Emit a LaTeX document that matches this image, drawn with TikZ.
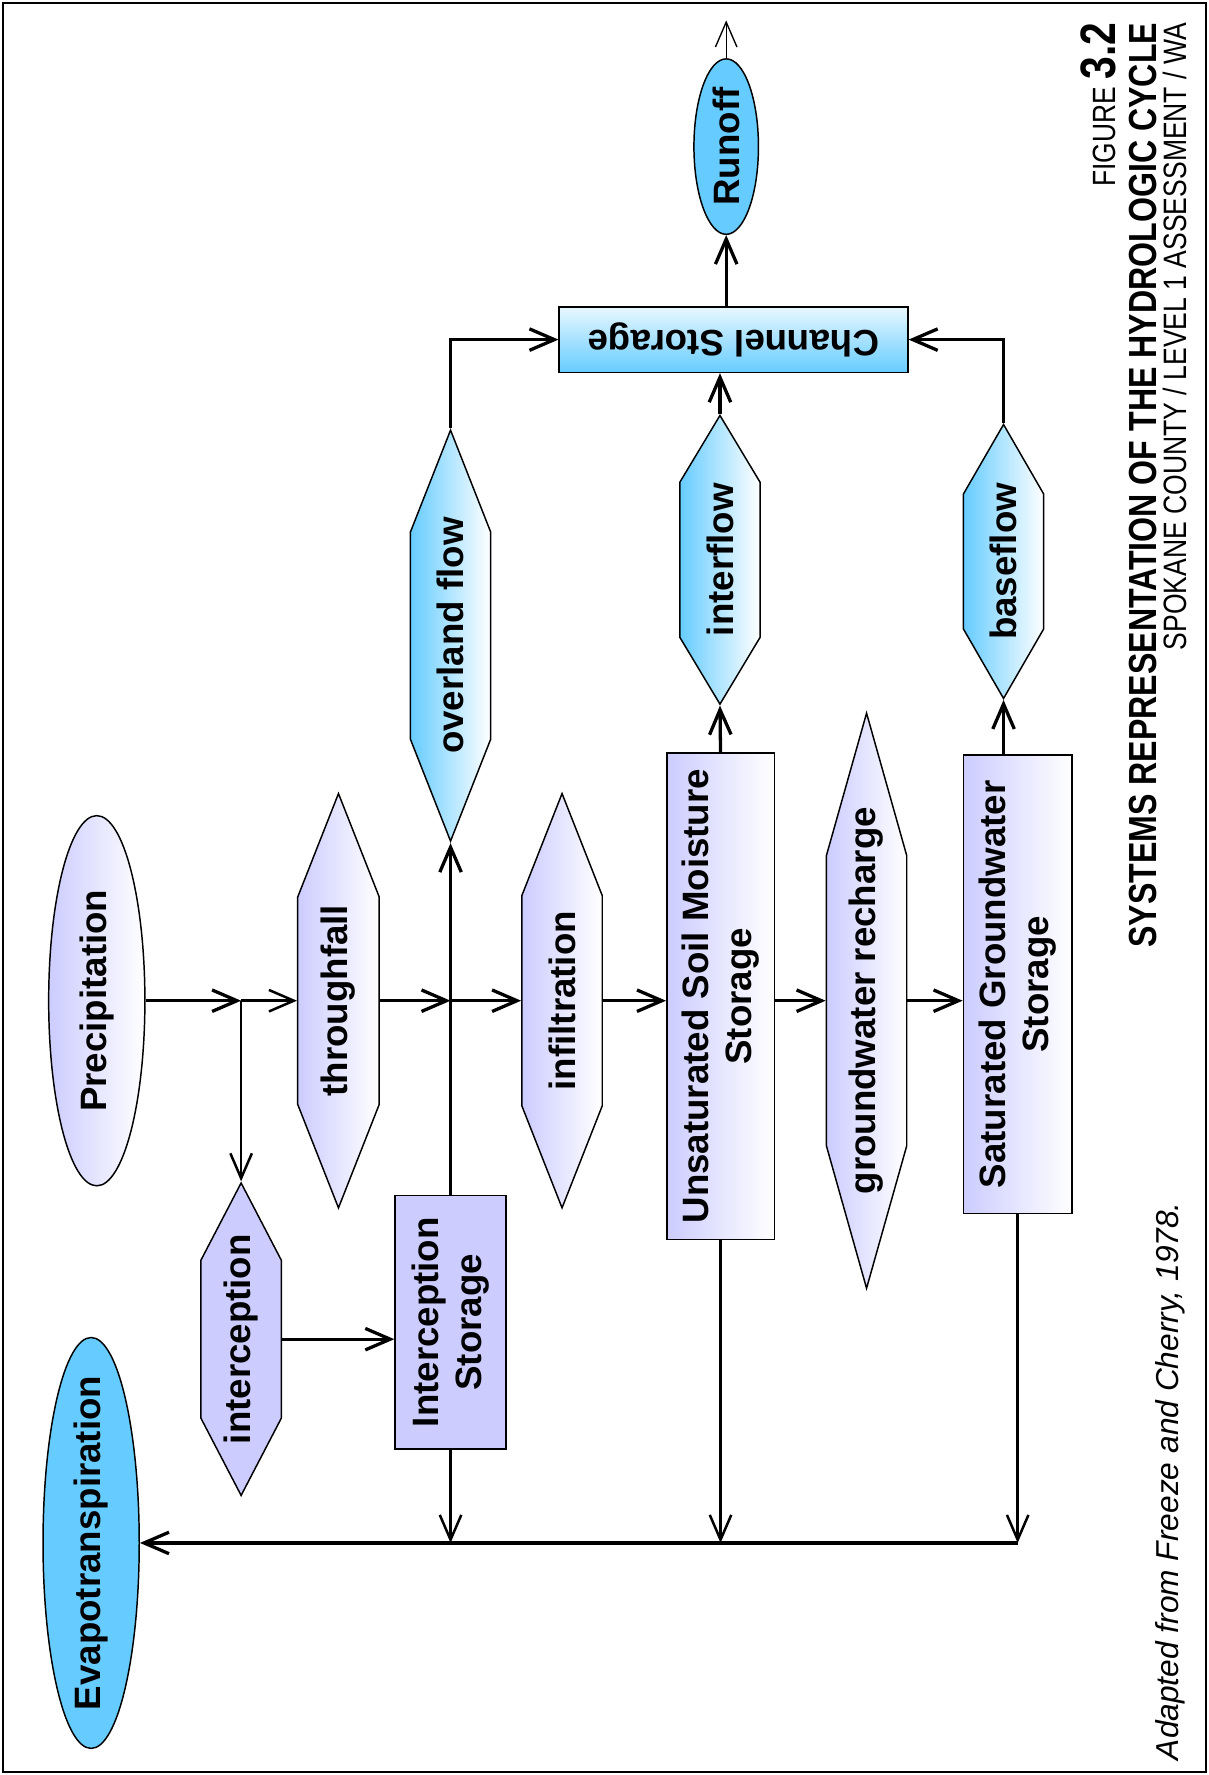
\documentclass[tikz,border=0pt]{standalone}
\usepackage{fontspec}
\setmainfont{Liberation Sans}
\newfontfamily\narrowfont{Liberation Sans}[FakeStretch=0.82]
\usetikzlibrary{shapes.geometric,shapes.symbols,arrows.meta}

\definecolor{lav}{RGB}{204,204,255}
\definecolor{sky}{RGB}{102,204,255}
\newcommand\hydrofont{\bfseries\fontsize{32.4}{38}\selectfont}
\newcommand\nowidth[1]{\makebox[0pt]{#1}}

\begin{document}
\begin{tikzpicture}[x=1pt, y=-1pt,
  term/.style={ellipse, draw, line width=1.3pt, inner sep=0pt, rotate=90, font=\hydrofont},
  flux/.style={signal, signal to=east and west, draw, line width=1.3pt, inner sep=0pt, rotate=90, font=\hydrofont},
  store/.style={rectangle, draw, line width=1.3pt, inner sep=0pt, rotate=90, align=center, font=\hydrofont},
  tank/.style={rectangle, draw, line width=1.3pt, inner sep=0pt, rotate=180, font=\hydrofont},
  dims/.style 2 args={minimum width=#1pt, minimum height=#2pt},
  lavgrad/.style={left color=lav, right color=white},
  skygrad/.style={left color=sky, right color=white},
  flow/.style={-{Straight Barb[length=22pt,width=19pt]}, line width=2.9pt},
  thinflow/.style={-{Straight Barb[length=22pt,width=19pt]}, line width=2.2pt},
  title/.style={rotate=90, anchor=base east, inner sep=0pt}
]
\useasboundingbox (0,0) rectangle (1068,1568);
\draw[line width=1.8pt] (3,3) rectangle (1065,1565);

% sources and sinks
\node[term, lavgrad, dims={327}{85}] (prec) at (85.5,884) {\nowidth{Precipitation}};
\node[term, fill=sky, dims={363}{85}] (evap) at (80.5,1363) {\nowidth{Evapotranspiration}};
\node[term, fill=sky, dims={155}{57}] (runoff) at (641.5,129.5) {\nowidth{Runoff}};

% fluxes
\node[flux, lavgrad, dims={366}{72}, signal pointer angle=43] (thru) at (299,884) {\nowidth{throughfall}};
\node[flux, fill=lav, dims={276}{71}, signal pointer angle=55] (intc) at (213,1183) {\nowidth{interception}};
\node[flux, skygrad, dims={363}{71}, signal pointer angle=43] (over) at (398,561.5) {\nowidth{overland flow}};
\node[flux, lavgrad, dims={366}{71}, signal pointer angle=43] (infil) at (496.5,884) {\nowidth{infiltration}};
\node[flux, skygrad, dims={255}{71}, signal pointer angle=62] (inter) at (636,494.5) {\nowidth{interflow}};
\node[flux, lavgrad, dims={508}{71}, signal pointer angle=31.5] (gwr) at (765.5,884) {\nowidth{groundwater recharge}};
\node[flux, skygrad, dims={242}{71}, signal pointer angle=60] (base) at (886.5,496) {\nowidth{baseflow}};

% storages
\node[store, fill=lav, dims={224}{98}] (istore) at (398,1168) {Interception\\Storage};
\node[store, lavgrad, dims={430}{95}] (unsat) at (636.5,880) {Unsaturated Soil Moisture\\Storage};
\node[store, lavgrad, dims={405}{96}] (sat) at (899,869.5) {Saturated Groundwater\\Storage};
\node[tank, top color=white!85!sky, bottom color=sky, dims={308}{58}] (chan) at (648,300) {Channel Storage};

\coordinate (fork) at (213,884);
\coordinate (cross) at (398,884);
\coordinate (outlet) at (641.5,18);

% connectors
\draw[flow] (prec.south |- fork) -- (fork);
\draw[thinflow] (fork) -- (thru.north);
\draw[thinflow] (fork) -- (intc.east);
\draw[flow] (thru.south) -- (cross);
\draw[flow] (cross) -- (infil.north);
\draw[flow] (istore.east) -- (over.west);
\draw[flow] (intc.south) -- (intc.south -| istore.north);
\draw[flow] (infil.south) -- (infil.south -| unsat.north);
\draw[flow] (unsat.east) -- (inter.west);
\draw[flow] (inter.east) -- (inter.east |- chan.north);
\draw[flow] (gwr.north -| unsat.south) -- (gwr.north);
\draw[flow] (gwr.south) -- (gwr.south -| sat.north);
\draw[flow] (sat.east -| base.west) -- (base.west);
\draw[flow] (base.east) |- (chan.west);
\draw[flow] (over.east) |- (chan.east);
\draw[flow] (chan.south -| runoff.west) -- (runoff.west);
\draw[thinflow, line width=1.2pt] (runoff.east) -- (outlet);

% losses to evapotranspiration
\draw[thinflow] (istore.west) -- (istore.west |- evap.south);
\draw[thinflow] (unsat.west) -- (unsat.west |- evap.south);
\draw[thinflow] (sat.west) -- (sat.west |- evap.south);
\draw[flow] (sat.west |- evap.south) -- (evap.south);

% titles
\node[title, font=\narrowfont\fontsize{28.4}{30}\selectfont] (fignum) at (985,20) {FIGURE {\bfseries\fontsize{44}{46}\selectfont 3.2}};
\node[title, font=\narrowfont\bfseries\fontsize{34.6}{36}\selectfont] (heading) at (1022,20) {SYSTEMS REPRESENTATION OF THE HYDROLOGIC CYCLE};
\node[title, font=\narrowfont\fontsize{28.6}{30}\selectfont] (county) at (1048,20) {SPOKANE COUNTY / LEVEL 1 ASSESSMENT / WA};
\node[rotate=90, anchor=base west, inner sep=0pt, font=\itshape\fontsize{28}{30}\selectfont] (source) at (1041,1555) {Adapted from Freeze and Cherry, 1978.};
\end{tikzpicture}
\end{document}
